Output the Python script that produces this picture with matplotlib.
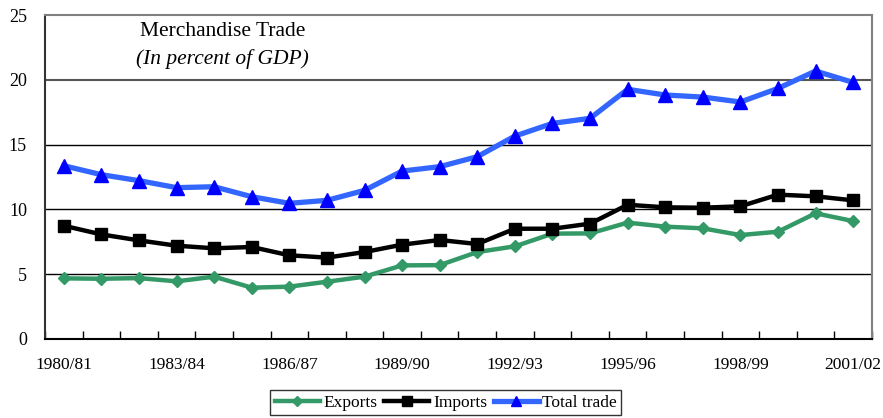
import matplotlib
matplotlib.use("Agg")
import matplotlib.pyplot as plt
import numpy as np

years = ["1980/81", "1981/82", "1982/83", "1983/84", "1984/85", "1985/86", "1986/87",
         "1987/88", "1988/89", "1989/90", "1990/91", "1991/92", "1992/93", "1993/94",
         "1994/95", "1995/96", "1996/97", "1997/98", "1998/99", "1999/00", "2000/01", "2001/02"]
exports = [4.68, 4.65, 4.7, 4.45, 4.81, 3.96, 4.04, 4.42, 4.81, 5.68, 5.7, 6.71, 7.15,
           8.13, 8.15, 8.98, 8.67, 8.54, 8.02, 8.28, 9.7, 9.1]
imports = [8.74, 8.07, 7.61, 7.2, 7.0, 7.1, 6.46, 6.28, 6.71, 7.28, 7.64, 7.33, 8.51,
           8.51, 8.9, 10.36, 10.16, 10.13, 10.24, 11.14, 11.01, 10.7]
total = [13.37, 12.68, 12.22, 11.68, 11.75, 10.98, 10.47, 10.7, 11.47, 12.96, 13.3,
         14.07, 15.66, 16.64, 17.03, 19.27, 18.83, 18.67, 18.29, 19.34, 20.68, 19.8]
yticks = [0, 5, 10, 15, 20, 25]

plt.rcParams['font.family'] = ['Liberation Serif', 'DejaVu Serif']

fig = plt.figure(figsize=(8.83, 4.18), dpi=100)
ax = fig.add_axes([0.051, 0.189, 0.9365, 0.775])

x = np.arange(len(years))
ax.plot(x, exports, color='#339966', lw=3.2, marker='D', ms=6.5, mfc='#339966', mec='#339966',
        label='Exports', zorder=3)
ax.plot(x, imports, color='black', lw=3.2, marker='s', ms=8.5, label='Imports', zorder=4)
ax.plot(x, total, color='#3366FF', lw=3.8, marker='^', ms=9.5, mfc='#0000FF', mec='#0000FF',
        label='Total trade', zorder=5)

ax.set_xlim(-0.5, len(years) - 0.5)
ax.set_ylim(0, 25)
ax.set_yticks(yticks)
ax.set_yticklabels([str(v) for v in yticks], fontsize=13)
for v in yticks[1:-1]:
    ax.axhline(v, color='black' if v != 20 else '#555555', lw=1 if v != 20 else 1.5, zorder=1)

ax.set_xticks(x[::3])
ax.set_xticklabels(years[::3], fontsize=12.5)
ax.tick_params(axis='x', length=0, pad=13)
ax.set_xticks(np.arange(-0.5, len(years), 1), minor=True)
ax.tick_params(axis='x', which='minor', direction='in', length=6, width=1)
ax.tick_params(axis='y', length=0, pad=13)

for s in ['top', 'right']:
    ax.spines[s].set_color('#808080')
    ax.spines[s].set_linewidth(1.5)
ax.spines['left'].set_color('#333333')
ax.spines['left'].set_linewidth(1.5)
ax.spines['bottom'].set_linewidth(1.5)

ax.text(0.215, 0.948, "Merchandise Trade", transform=ax.transAxes, ha='center',
        va='center', fontsize=15.5)
ax.text(0.215, 0.865, "(In percent of GDP)", transform=ax.transAxes, ha='center',
        va='center', fontsize=15.5, style='italic')

leg = fig.legend(loc='center', bbox_to_anchor=(0.505, 0.0365), ncol=3, fontsize=12.5,
                 frameon=True, fancybox=False, edgecolor='black', handlelength=2.6,
                 handletextpad=0.2, columnspacing=0.4, borderpad=0.25, markerscale=0.8)
leg.get_frame().set_linewidth(1)

fig.savefig("out.png", dpi=100)
